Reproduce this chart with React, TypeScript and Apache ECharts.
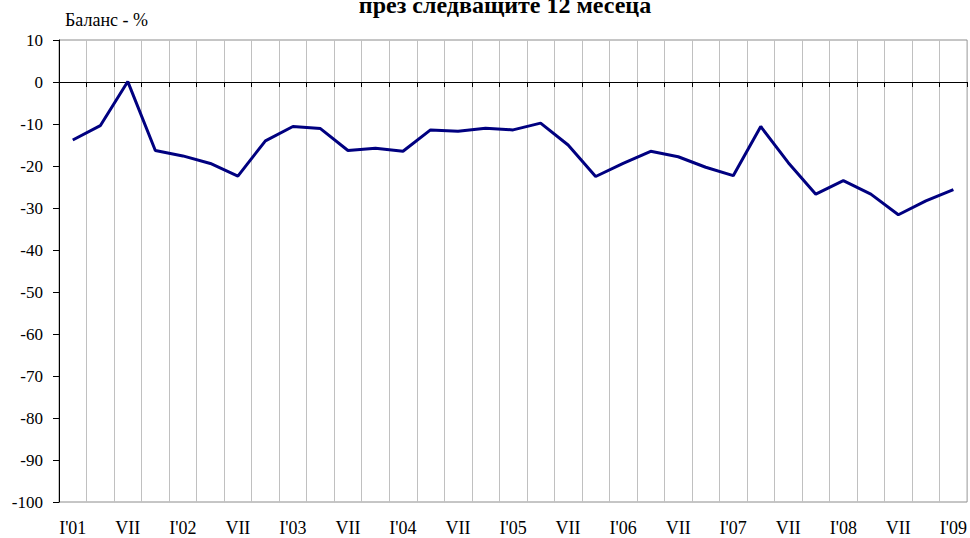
import React, { useEffect, useRef } from "react";
import * as echarts from "echarts";

const categories: string[] = [
  "I'01", "IV", "VII", "X",
  "I'02", "IV", "VII", "X",
  "I'03", "IV", "VII", "X",
  "I'04", "IV", "VII", "X",
  "I'05", "IV", "VII", "X",
  "I'06", "IV", "VII", "X",
  "I'07", "IV", "VII", "X",
  "I'08", "IV", "VII", "X",
  "I'09",
];

const balance: number[] = [
  -13.8, -10.4, 0.1, -16.3,
  -17.6, -19.4, -22.4, -14.0,
  -10.6, -11.1, -16.3, -15.8,
  -16.5, -11.4, -11.7, -11.0,
  -11.4, -9.8, -15.0, -22.5,
  -19.4, -16.5, -17.8, -20.3,
  -22.3, -10.6, -19.2, -26.7,
  -23.5, -26.7, -31.6, -28.3,
  -25.6,
];

const titleText = "през следващите 12 месеца";
const yAxisTitle = "Баланс - %";

const FONT = "Liberation Serif, Times New Roman, serif";

export default function App() {
  const ref = useRef<HTMLDivElement>(null);
  useEffect(() => {
    if (!ref.current) return;
    const chart = echarts.init(ref.current, undefined, { renderer: "svg" });
    chart.setOption({
      animation: false,
      backgroundColor: "#ffffff",
      grid: {
        left: 59,
        right: 2,
        top: 40,
        bottom: 36,
        show: true,
        borderColor: "#8c8c8c",
        borderWidth: 1,
        backgroundColor: "transparent",
      },
      graphic: [
        {
          type: "text",
          x: 505,
          y: -7,
          style: {
            text: titleText,
            fontFamily: FONT,
            fontWeight: "bold",
            fontSize: 24,
            textAlign: "center",
            textVerticalAlign: "top",
            fill: "#000",
          },
        },
        {
          type: "text",
          x: 65,
          y: 11,
          style: {
            text: yAxisTitle,
            fontFamily: FONT,
            fontSize: 18,
            textAlign: "left",
            textVerticalAlign: "top",
            fill: "#000",
          },
        },
      ],
      xAxis: [
        {
          type: "category",
          data: categories,
          boundaryGap: true,
          axisLine: { show: false, onZero: false },
          axisTick: { show: false },
          axisLabel: {
            interval: 1,
            margin: 17,
            color: "#000",
            fontFamily: FONT,
            fontSize: 18,
          },
          splitLine: {
            show: true,
            interval: 0,
            lineStyle: { color: "#c0c0c0", width: 1 },
          },
        },
        {
          type: "category",
          data: categories,
          boundaryGap: true,
          position: "bottom",
          axisLine: { show: true, onZero: true, lineStyle: { color: "#000", width: 1 } },
          axisTick: { show: true, interval: 0, length: 5, lineStyle: { color: "#000" } },
          axisLabel: { show: false },
          splitLine: { show: false },
        },
      ],
      yAxis: {
        type: "value",
        min: -100,
        max: 10,
        interval: 10,
        axisLine: { show: true, lineStyle: { color: "#000", width: 1 } },
        axisTick: { show: true, length: 6, lineStyle: { color: "#000" } },
        axisLabel: {
          color: "#000",
          fontFamily: FONT,
          fontSize: 17,
          margin: 16,
        },
        splitLine: { show: false },
      },
      series: [
        {
          type: "line",
          data: balance,
          xAxisIndex: 0,
          showSymbol: false,
          symbol: "none",
          lineStyle: { color: "#000080", width: 3 },
          z: 5,
        },
      ],
    });
    return () => chart.dispose();
  }, []);
  return <div ref={ref} style={{ width: 970, height: 538, position: "absolute", left: 0, top: 0 }} />;
}
